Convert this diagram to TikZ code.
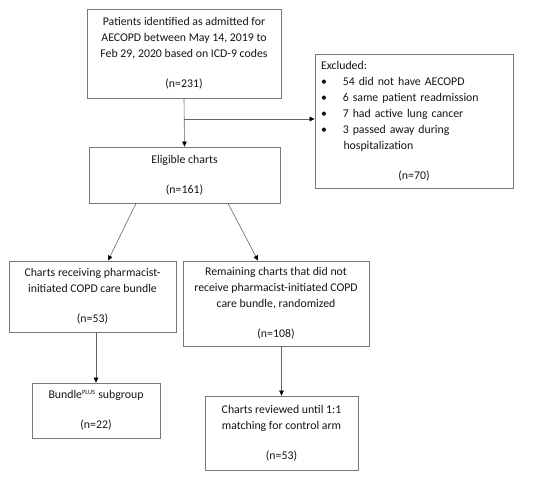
\documentclass[tikz,border=0pt]{standalone}
\usepackage{fontspec}
\setmainfont{Carlito}
\usetikzlibrary{arrows.meta}

\definecolor{boxLine}{RGB}{120,120,120}
\definecolor{arrowLine}{RGB}{100,100,100}
\definecolor{textColor}{RGB}{20,20,20}

\begin{document}
\begin{tikzpicture}[
  x=1pt, y=-1pt,
  font=\fontsize{11.8}{16}\selectfont,
  box/.style={draw=boxLine, line width=0.8pt, inner sep=0pt, align=center, text=textColor},
  flow/.style={draw=arrowLine, line width=0.6pt, -{Triangle[length=5pt, width=4.5pt, color=black]}}
]
\useasboundingbox (0,0) rectangle (534,480);

% Top box
\node[box, minimum width=194, minimum height=89] (ident) at (184,53.5)
  {Patients identified as admitted for\\ AECOPD between May 14, 2019 to\\ Feb 29, 2020 based on ICD-9 codes\\[14pt] (n=231)};

% Exclusions
\node[box, minimum width=198, minimum height=134, text width=186, align=left] (excl) at (414,121)
  {Excluded:\\
   \textbullet\hspace{16pt}54 did not have AECOPD\\
   \textbullet\hspace{16pt}6 same patient readmission\\
   \textbullet\hspace{16pt}7 had active lung cancer\\
   \textbullet\hspace{16pt}3 passed away during\\
   \hspace*{22.5pt}hospitalization\\[14pt]
   \hspace*{\fill}(n=70)\hspace*{\fill}};

% Eligible charts
\node[box, minimum width=191, minimum height=56] (elig) at (184.5,175)
  {Eligible charts\\[14pt] (n=161)};

% Two arms
\node[box, minimum width=167, minimum height=71] (recv) at (92.5,296.5)
  {Charts receiving pharmacist-\\ initiated COPD care bundle\\[14pt] (n=53)};
\node[box, minimum width=186, minimum height=85] (remain) at (276,303.5)
  {Remaining charts that did not\\ receive pharmacist-initiated COPD\\ care bundle, randomized\\[14pt] (n=108)};

% Bottom row
\node[box, minimum width=128, minimum height=55] (plus) at (96,410.5)
  {Bundle\textsuperscript{\fontsize{6.5}{7}\selectfont PLUS} subgroup\\[14pt] (n=22)};
\node[box, minimum width=153, minimum height=74] (review) at (281.5,433)
  {Charts reviewed until 1:1\\ matching for control arm\\[14pt] (n=53)};

% Connectors
\draw[flow] (ident.south) -- (elig.north);
\coordinate (split) at (ident.south |- 0,119);
\draw[flow] (split) -- (excl.west |- split);
\draw[flow] ([xshift=-48.5]elig.south) -- ([xshift=15.5]recv.north);
\draw[flow] ([xshift=43.5]elig.south) -- ([xshift=-18]remain.north);
\draw[flow] (plus.north |- recv.south) -- (plus.north);
\draw[flow] (review.north |- remain.south) -- (review.north);

\end{tikzpicture}
\end{document}
